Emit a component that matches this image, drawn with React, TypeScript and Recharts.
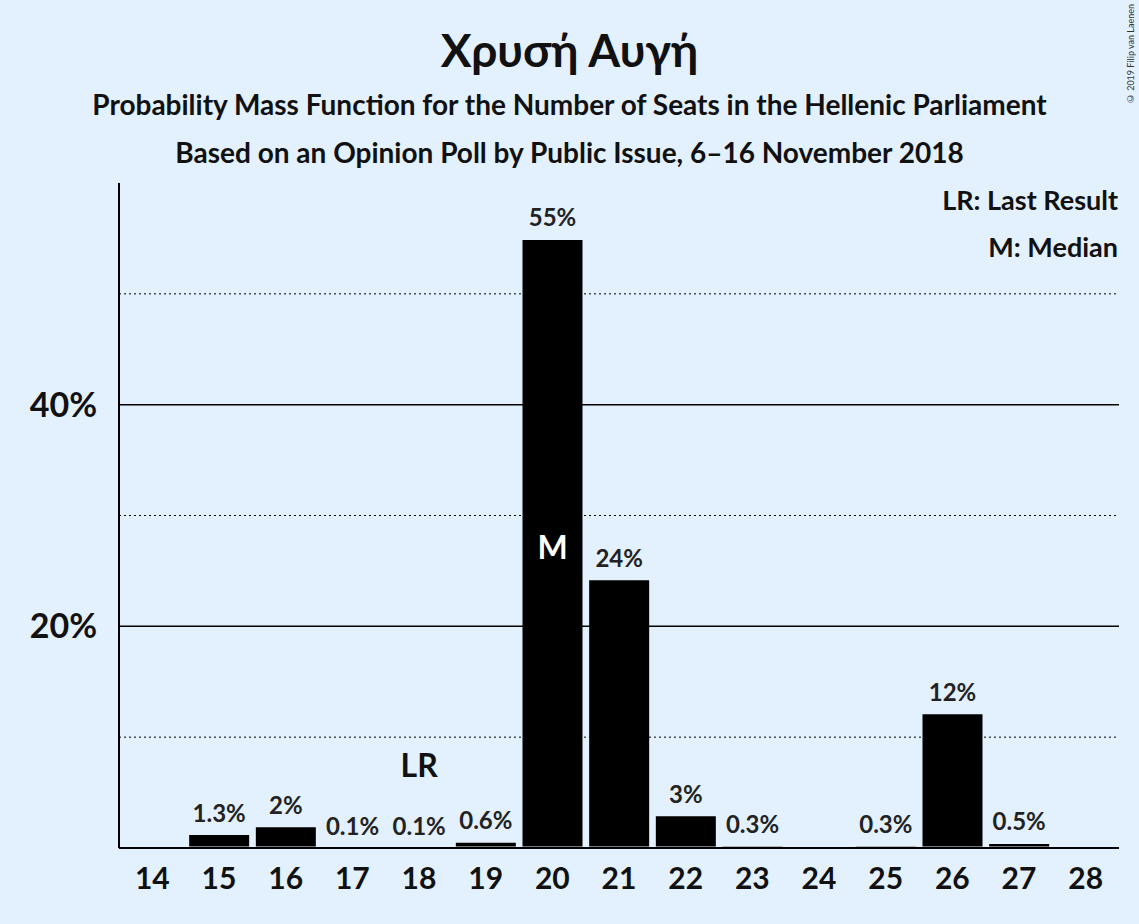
import React, { useEffect } from "react";
import {
  BarChart,
  Bar,
  XAxis,
  YAxis,
  ReferenceLine,
  LabelList,
  Cell,
} from "recharts";

const seats = [14, 15, 16, 17, 18, 19, 20, 21, 22, 23, 24, 25, 26, 27, 28];
const probs = [0, 1.3, 2, 0.1, 0.1, 0.6, 55, 24.3, 3, 0.3, 0, 0.3, 12.2, 0.5, 0];
const labels = ["0%", "1.3%", "2%", "0.1%", "0.1%", "0.6%", "55%", "24%", "3%", "0.3%", "0%", "0.3%", "12%", "0.5%", "0%"];
const solidLines = [20, 40];
const dottedLines = [10, 30, 50];
const lastResult = 18;
const median = 20;

const BG = "#e3f0fd";
const FONT = "Lato, 'Open Sans', sans-serif";

const data = seats.map((s, i) => ({ seat: s, value: probs[i], label: labels[i] }));

export default function App() {
  useEffect(() => {
    document.body.style.margin = "0";
  }, []);

  const renderLabel = (props: any) => {
    const { x, y, width, value } = props;
    const d = data.find((e) => e.seat === value);
    if (!d) return null;
    const cx = x + width / 2;
    return (
      <g>
        <text x={cx} y={y - 12} textAnchor="middle" fontSize={24} fontWeight={700} fill="#222" fontFamily={FONT}
          stroke={BG} strokeWidth={6} paintOrder="stroke">
          {d.label}
        </text>
        {d.seat === lastResult && (
          <text x={cx} y={y - 70} textAnchor="middle" fontSize={32} fontWeight={700} fill="#111" fontFamily={FONT}>LR</text>
        )}
        {d.seat === median && (
          <text x={cx} y={559} textAnchor="middle" fontSize={32} fontWeight={700} fill="#fff" fontFamily={FONT}>M</text>
        )}
      </g>
    );
  };

  return (
    <div style={{ position: "relative", width: 1139, height: 924, background: BG, fontFamily: FONT, overflow: "hidden" }}>
      <div style={{ position: "absolute", top: 22, width: 1139, textAlign: "center", fontSize: 46, fontWeight: 700, color: "#111" }}>
        Χρυσή Αυγή
      </div>
      <div style={{ position: "absolute", top: 87, width: 1139, textAlign: "center", fontSize: 28, fontWeight: 700, color: "#111" }}>
        Probability Mass Function for the Number of Seats in the Hellenic Parliament
      </div>
      <div style={{ position: "absolute", top: 135, width: 1139, textAlign: "center", fontSize: 28, fontWeight: 700, color: "#111" }}>
        Based on an Opinion Poll by Public Issue, 6–16 November 2018
      </div>
      <div style={{ position: "absolute", top: 183, right: 21, fontSize: 27, fontWeight: 700, color: "#111", zIndex: 2 }}>
        LR: Last Result
      </div>
      <div style={{ position: "absolute", top: 230, right: 21, fontSize: 27, fontWeight: 700, color: "#111", zIndex: 2 }}>
        M: Median
      </div>
      <div style={{ position: "absolute", top: 4, left: 1125, fontSize: 9, color: "#333", writingMode: "vertical-rl", transform: "rotate(180deg)" }}>
        © 2019 Filip van Laenen
      </div>
      <BarChart
        width={1139}
        height={924}
        data={data}
        margin={{ top: 183, right: 20, bottom: 46, left: 0 }}
        barCategoryGap={2}
        style={{ position: "absolute", top: 0, left: 0 }}
      >
        <XAxis
          dataKey="seat"
          axisLine={{ stroke: "#000", strokeWidth: 2 }}
          tickLine={false}
          tick={{ fontSize: 30, fontWeight: 700, fill: "#111", fontFamily: FONT }}
          tickMargin={14}
        />
        <YAxis
          width={119}
          domain={[0, 60]}
          ticks={solidLines}
          axisLine={{ stroke: "#000", strokeWidth: 2 }}
          tickLine={false}
          tick={{ fontSize: 34, fontWeight: 700, fill: "#111", fontFamily: FONT }}
          tickFormatter={(v: number) => `${v}%`}
          tickMargin={16}
        />
        {dottedLines.map((v) => (
          <ReferenceLine key={v} y={v} stroke="#000" strokeDasharray="2 3" strokeWidth={1} />
        ))}
        {solidLines.map((v) => (
          <ReferenceLine key={v} y={v} stroke="#000" strokeWidth={1.5} />
        ))}
        <Bar dataKey="value" isAnimationActive={false} stroke={BG} strokeWidth={3} minPointSize={0}>
          {data.map((d) => (
            <Cell key={d.seat} fill="#000" />
          ))}
          <LabelList dataKey="seat" content={renderLabel} />
        </Bar>
      </BarChart>
    </div>
  );
}
